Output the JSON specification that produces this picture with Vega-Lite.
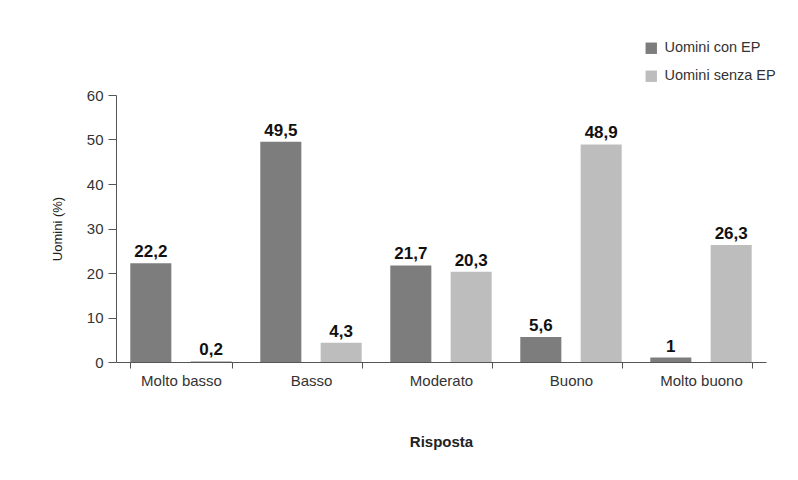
{
  "$schema": "https://vega.github.io/schema/vega-lite/v6.json",
  "autosize": {"type": "none"},
  "width": 650,
  "height": 267,
  "padding": {"left": 116, "top": 95, "right": 32, "bottom": 118},
  "background": "white",
  "config": {
    "font": "Liberation Sans",
    "view": {"stroke": null},
    "locale": {"number": {"decimal": ",", "thousands": ".", "grouping": [3], "currency": ["", " €"]}},
    "axis": {
      "domainColor": "#555555",
      "tickColor": "#555555",
      "labelColor": "#333333",
      "labelFontSize": 15,
      "titleColor": "#222222",
      "titleFontSize": 13,
      "grid": false
    }
  },
  "data": {
    "values": [
      {"risposta": "Molto basso", "gruppo": "Uomini con EP", "valore": 22.2},
      {"risposta": "Molto basso", "gruppo": "Uomini senza EP", "valore": 0.2},
      {"risposta": "Basso", "gruppo": "Uomini con EP", "valore": 49.5},
      {"risposta": "Basso", "gruppo": "Uomini senza EP", "valore": 4.3},
      {"risposta": "Moderato", "gruppo": "Uomini con EP", "valore": 21.7},
      {"risposta": "Moderato", "gruppo": "Uomini senza EP", "valore": 20.3},
      {"risposta": "Buono", "gruppo": "Uomini con EP", "valore": 5.6},
      {"risposta": "Buono", "gruppo": "Uomini senza EP", "valore": 48.9},
      {"risposta": "Molto buono", "gruppo": "Uomini con EP", "valore": 1},
      {"risposta": "Molto buono", "gruppo": "Uomini senza EP", "valore": 26.3}
    ]
  },
  "encoding": {
    "x": {
      "field": "risposta",
      "type": "nominal",
      "sort": ["Molto basso", "Basso", "Moderato", "Buono", "Molto buono"],
      "scale": {"paddingInner": 0.22, "paddingOuter": 0.11},
      "axis": {
        "title": "Risposta",
        "titleFontWeight": "bold",
        "titleFontSize": 15,
        "titlePadding": 46,
        "labelAngle": 0,
        "tickBand": "extent",
        "tickSize": 6,
        "labelPadding": 5
      }
    },
    "xOffset": {
      "field": "gruppo",
      "type": "nominal",
      "scale": {"paddingInner": 0.32, "paddingOuter": 0}
    },
    "y": {
      "field": "valore",
      "type": "quantitative",
      "scale": {"domain": [0, 60]},
      "axis": {
        "title": "Uomini (%)",
        "titleFontWeight": "normal",
        "titleFontSize": 13,
        "values": [0, 10, 20, 30, 40, 50, 60],
        "tickSize": 8,
        "labelPadding": 5,
        "titlePadding": 22
      }
    }
  },
  "layer": [
    {
      "mark": {"type": "bar"},
      "encoding": {
        "color": {
          "field": "gruppo",
          "type": "nominal",
          "scale": {"domain": ["Uomini con EP", "Uomini senza EP"], "range": ["#7d7d7d", "#bdbdbd"]},
          "legend": {
            "title": null,
            "orient": "none",
            "legendX": 528,
            "legendY": -54,
            "symbolType": "square",
            "symbolSize": 130,
            "symbolStrokeWidth": 0,
            "labelFontSize": 14.5,
            "labelColor": "#333333",
            "rowPadding": 13,
            "labelOffset": 6
          }
        }
      }
    },
    {
      "mark": {"type": "text", "baseline": "bottom", "dy": -2, "fontWeight": "bold", "fontSize": 17, "color": "#111111"},
      "encoding": {
        "text": {"field": "valore", "type": "quantitative", "format": ".3~r"}
      }
    }
  ]
}
